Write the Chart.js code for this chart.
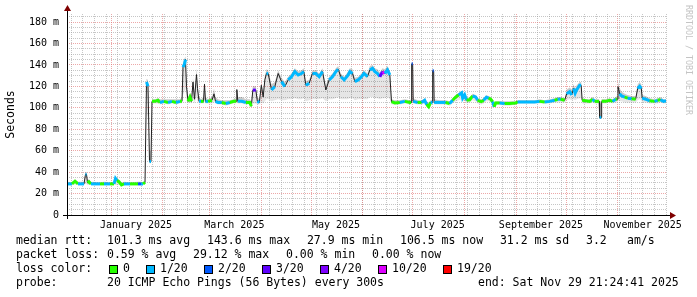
<!DOCTYPE html>
<html>
<head>
<meta charset="utf-8">
<script src="https://cdn.jsdelivr.net/npm/chart.js@4.4.1/dist/chart.umd.min.js"></script>
<style>
  html, body { margin: 0; padding: 0; background: #fff; }
  canvas { display: block; }
</style>
</head>
<body>
<canvas id="c" width="697" height="297"></canvas>
<script>
// smokeping year graph, days counted from 1 Jan 2025 (0 = Jan 1)
const days = [
  -26.4, -23.4, -21.6, -19.8, -16.2, -15.3, -14.7, -14.1, -13.2, -12.0, -6.6, -4.2, -0.6, 1.8, 2.7, 3.6, 4.8, 6.3, 7.8, 11.4,
  16.2, 18.0, 19.2, 20.4, 21.3, 22.2, 23.1, 24.0, 24.6,
  26.4, 28.2, 29.4, 31.8, 34.2, 36.6, 39.0, 41.4, 42.6, 43.2, 44.1, 44.7, 45.3, 46.2, 47.4, 48.3, 49.2, 50.1, 51.3, 51.9,
  52.8, 54.0, 55.5, 56.1, 56.7, 58.2, 60.6, 61.8, 62.7, 64.2, 66.5, 68.9, 71.3, 73.7, 75.2, 75.5, 76.1, 78.5, 80.9, 83.3,
  84.2, 85.1, 86.9, 87.8, 89.0, 90.2, 91.3, 92.3,
  93.3, 94.3, 96.3, 98.3, 100.3, 102.3, 104.3, 106.3, 108.3, 110.3, 112.3, 114.3, 115.7, 116.9, 118.9, 120.9, 122.9, 124.9,
  126.9, 128.9, 130.9, 132.9, 134.9, 136.3, 137.9, 139.9, 141.9, 143.3, 144.9, 146.3, 148.3, 150.3, 151.8, 153.9, 155.3,
  156.9, 158.3, 159.9, 161.3, 162.9, 164.3, 165.9, 167.3, 168.3,
  170.3, 173.3, 176.3, 179.3, 180.1, 180.4, 181.0, 181.3, 184.0, 186.4, 188.2, 189.4, 190.6, 191.8, 192.9, 193.0, 193.6,
  193.9, 197.2, 200.8, 203.2, 205.0, 206.8, 208.6, 210.4, 211.0, 212.2, 213.4, 215.2, 217.0, 218.8, 220.0, 222.2, 223.6,
  225.2, 226.6, 227.8, 229.0, 229.9, 230.8, 233.2, 236.2, 239.2, 242.8, 244.0, 248.2, 251.2, 254.2, 257.2, 260.2, 263.2,
  266.2, 268.0, 269.8, 272.2, 273.4, 275.2, 276.4, 277.6, 278.5, 279.4, 281.2, 282.1, 282.7, 284.8, 287.2, 289.0, 290.2,
  292.0, 292.9, 293.2, 294.1, 294.4, 296.8, 299.2, 301.0, 302.8, 303.7, 304.2, 305.2, 306.4, 308.2, 310.0, 312.4, 314.8,
  316.0, 317.2, 318.2, 318.7, 320.8, 323.2, 326.2, 328.0, 329.7, 331.5, 333.0
];
// median rtt (ms)
const median = [
  29, 29, 31.5, 29, 29, 38, 38, 30, 31, 29, 29, 29, 29, 29, 34, 32, 31, 28, 29, 29,
  29, 29, 29, 30.5, 124, 120, 50, 50, 106,
  106, 107, 105, 106, 105, 106, 105, 106, 106, 138, 141, 145, 120, 106, 110, 106, 124, 108, 131, 118,
  106, 106, 106, 122, 106, 106, 107, 113, 106, 105, 105, 104, 105, 106, 106, 117, 106, 106, 105, 105,
  101.5, 116.5, 116.5, 106, 105, 121, 110, 126,
  132, 132, 116.6, 119.7, 132, 124.4, 119.7, 126, 129, 133.7, 130.6, 132, 133.7, 121, 122.8, 132, 132, 129,
  133.7, 116.6, 126, 129, 133.7, 135.9, 129, 126, 129.7, 133.7, 132, 124.4, 126, 129, 132, 129, 135.3,
  136.8, 133.7, 132, 129, 133.7, 132, 135.3, 130.6, 105.7,
  104.5, 105, 106, 105, 105, 141, 141, 106, 105, 105, 107, 103, 101, 105, 105, 134.6, 134.6,
  105, 105, 105, 104, 107, 110, 112, 114, 109, 112, 107, 107.5, 111, 110, 107, 105.7, 107,
  109.8, 109, 108, 105.7, 101, 104.5, 104.5, 104, 104, 104.5, 105.5, 105.5, 105.5, 105.5, 106, 105.5, 106,
  107, 108, 108, 107, 113, 115, 112, 118, 113.5, 116.6, 121, 121, 107, 106.5, 106, 108, 106,
  106, 106, 91, 91, 106, 106, 107, 106, 108, 108, 119.7, 113, 111, 110, 109, 108.5, 108,
  118, 120, 118, 109, 108, 106.5, 106, 107, 107.5, 106, 106.5
];
// packet loss bucket (index into lossColors)
const loss = [
  1, 0, 0, 1, 1, 1, 1, 0, 0, 1, 0, 1, 0, 1, 1, 0, 0, 0, 1, 0,
  2, 1, 0, 1, 1, 1, 1, 1, 0,
  0, 0, 1, 0, 1, 0, 1, 0, 1, 1, 1, 1, 1, 0, 0, 1, 1, 1, 1, 1,
  1, 0, 1, 1, 1, 0, 0, 1, 1, 1, 0, 1, 0, 0, 1, 1, 1, 1, 0, 0,
  1, 3, 3, 1, 0, 1, 1, 1,
  1, 1, 1, 1, 1, 1, 1, 1, 1, 1, 1, 1, 1, 1, 1, 1, 1, 1,
  1, 1, 1, 1, 1, 1, 1, 1, 1, 1, 3, 1, 1, 1, 1, 1, 1,
  1, 1, 1, 3, 5, 1, 1, 1, 0,
  0, 1, 0, 0, 1, 2, 2, 1, 0, 1, 1, 0, 0, 1, 1, 2, 2,
  1, 1, 0, 1, 0, 0, 1, 1, 1, 1, 0, 0, 1, 1, 0, 0, 1,
  1, 0, 0, 1, 0, 0, 1, 0, 0, 0, 1, 1, 1, 1, 0, 1, 1,
  0, 1, 0, 0, 1, 1, 1, 1, 1, 1, 1, 1, 0, 0, 0, 1, 0,
  0, 1, 1, 1, 0, 0, 0, 1, 0, 1, 1, 1, 1, 0, 1, 0, 1,
  1, 1, 1, 1, 1, 0, 1, 0, 1, 1, 0
];
// smoke band (spread of the 20 pings)
const smokeLo = [
  28, 28, 28.5, 28, 28, 29, 29, 28, 28, 28, 28, 28, 28, 28, 28, 28, 28, 27.5, 28, 28,
  28, 28, 28, 28, 95, 90, 48, 48, 104,
  104, 104, 103, 104, 103, 104, 103, 104, 104, 112, 115, 118, 108, 104, 105, 104, 108, 104, 110, 106,
  104, 104, 104, 106, 104, 104, 104, 106, 104, 103, 103, 102, 103, 104, 104, 106, 104, 104, 103, 103,
  100, 104, 104, 103, 103, 105, 104, 106,
  108, 108, 106, 107, 108, 107, 107, 108, 108, 109, 108, 108, 109, 106, 107, 108, 108, 108,
  109, 106, 108, 108, 109, 110, 108, 108, 108, 109, 109, 107, 108, 108, 108, 108, 110,
  110, 109, 109, 108, 109, 109, 110, 108, 103,
  103, 103, 104, 103, 103, 106, 106, 104, 103, 103, 104, 101, 100, 103, 103, 106, 106,
  103, 103, 103, 102, 104, 106, 107, 108, 106, 107, 104, 105, 107, 106, 104, 103, 104,
  106, 106, 105, 103, 100, 103, 103, 102, 102, 103, 104, 104, 104, 104, 104, 104, 104,
  105, 105, 105, 105, 107, 108, 107, 108, 107, 108, 109, 109, 104, 104, 104, 105, 104,
  104, 104, 90, 90, 104, 104, 105, 104, 105, 105, 107, 106, 106, 105, 105, 105, 105,
  107, 108, 107, 105, 105, 104, 104, 104, 105, 104, 104
];
const smokeHi = [
  31, 30.5, 33, 31, 31, 40, 40, 33, 33, 31, 30.5, 31, 30.5, 31, 36, 34, 33, 30, 31, 30.5,
  31, 31, 30.5, 32, 127, 126, 60, 60, 108,
  108, 109, 108, 108, 108, 108, 108, 108, 110, 142, 146, 148, 124, 110, 114, 110, 128, 112, 137, 122,
  110, 108, 110, 124, 110, 108, 110, 118, 110, 108, 107, 107, 107, 108, 109, 118, 110, 110, 108, 108,
  106, 120, 120, 110, 108, 124, 114, 130,
  136, 135, 122, 124, 135, 128, 124, 129, 132, 137, 134, 135, 137, 125, 126, 135, 135, 132,
  137, 121, 129, 132, 137, 139, 132, 129, 133, 137, 136, 128, 129, 132, 135, 132, 139,
  140, 137, 136, 133, 137, 136, 139, 134, 108,
  107, 107, 108, 107, 108, 142, 142, 109, 107, 107, 109, 106, 105, 107, 108, 136, 136,
  108, 107, 107, 106, 109, 112, 114, 116, 112, 114, 109, 110, 113, 112, 109, 108, 109,
  112, 111, 110, 108, 104, 106, 106, 106, 106, 106, 107, 107, 107, 107, 108, 107, 108,
  109, 110, 110, 109, 117, 119, 117, 122, 118, 121, 124, 124, 109, 108, 108, 110, 108,
  108, 108, 104, 104, 108, 108, 109, 108, 110, 111, 124, 118, 115, 113, 112, 111, 111,
  122, 124, 122, 112, 111, 109, 108, 109, 110, 108, 108
];

const lossColors = ['#26ff00', '#00b8ff', '#0059ff', '#5e00ff', '#7e00ff', '#dd00ff', '#ff0000'];
const lossLabels = ['0', '1/20', '2/20', '3/20', '4/20', '10/20', '19/20'];

// x axis: month starts (major grid), Sundays (minor grid), labels mid month
const monthStarts = [0, 31, 59, 90, 120, 151, 181, 212, 243, 273, 304];
const sundays = [];
for (let d = -24; d <= 333; d += 7) sundays.push(d);
const labelDays = [15, 74, 135, 196, 258, 319];
const labelTexts = ['January 2025', 'March 2025', 'May 2025', 'July 2025', 'September 2025', 'November 2025'];
const xMin = -26.4, xMax = 333.6;
const yTickValues = [];
for (let v = 0; v <= 185; v += 5) yTickValues.push(v);

const statLines = [
  { y: 241, items: [[16, 'median rtt:'], [107, '101.3 ms avg'], [207, '143.6 ms max'], [300, ' 27.9 ms min'], [400, '106.5 ms now'], [493, ' 31.2 ms sd'], [586, '3.2'], [627, 'am/s']] },
  { y: 255, items: [[16, 'packet loss:'], [107, '0.59 % avg'], [193, '29.12 % max'], [286, '0.00 % min'], [372, '0.00 % now']] },
  { y: 283, items: [[16, 'probe:'], [107, '20 ICMP Echo Pings (56 Bytes) every 300s'], [478, 'end: Sat Nov 29 21:24:41 2025']] }
];
const boxX = [109, 146, 204, 262, 320, 378, 443];

const MONO = '"DejaVu Sans Mono", "Liberation Mono", monospace';
const MAJOR = 'rgba(225,110,110,0.6)';
const MINOR = 'rgba(160,160,160,0.6)';

const medianPts = days.map((d, i) => ({ x: d, y: median[i] }));
const loPts = days.map((d, i) => ({ x: d, y: smokeLo[i] }));
const hiPts = days.map((d, i) => ({ x: d, y: smokeHi[i] }));

const rrdDecor = {
  id: 'rrdDecor',
  afterDraw(chart) {
    const ctx = chart.ctx;
    const a = chart.chartArea;
    ctx.save();
    // axes
    ctx.strokeStyle = '#000';
    ctx.lineWidth = 1;
    ctx.beginPath();
    ctx.moveTo(a.left - 4, a.bottom + 0.5);
    ctx.lineTo(a.right + 4, a.bottom + 0.5);
    ctx.moveTo(a.left + 0.5, a.bottom + 4);
    ctx.lineTo(a.left + 0.5, a.top - 4);
    ctx.stroke();
    ctx.fillStyle = '#7f0000';
    ctx.beginPath();
    ctx.moveTo(a.right + 3, a.bottom - 3);
    ctx.lineTo(a.right + 9, a.bottom + 0.5);
    ctx.lineTo(a.right + 3, a.bottom + 4);
    ctx.closePath();
    ctx.fill();
    ctx.beginPath();
    ctx.moveTo(a.left - 3, a.top - 3);
    ctx.lineTo(a.left + 0.5, a.top - 9);
    ctx.lineTo(a.left + 4, a.top - 3);
    ctx.closePath();
    ctx.fill();

    // watermark
    ctx.save();
    ctx.translate(684, 5);
    ctx.rotate(Math.PI / 2);
    ctx.font = '8.3px ' + MONO;
    ctx.fillStyle = '#c4c4c4';
    ctx.textBaseline = 'middle';
    ctx.textAlign = 'left';
    ctx.fillText('RRDTOOL / TOBI OETIKER', 0, -4);
    ctx.restore();

    // legend text
    ctx.font = '11.5px ' + MONO;
    ctx.fillStyle = '#000';
    ctx.textBaseline = 'middle';
    ctx.textAlign = 'left';
    statLines.forEach(line => {
      line.items.forEach(([x, t]) => ctx.fillText(t, x, line.y));
    });
    ctx.fillText('loss color:', 16, 269);
    lossColors.forEach((c, i) => {
      ctx.fillStyle = c;
      ctx.fillRect(boxX[i], 265, 8, 8);
      ctx.strokeStyle = '#000';
      ctx.strokeRect(boxX[i] + 0.5, 265.5, 8, 8);
      ctx.fillStyle = '#000';
      ctx.fillText(lossLabels[i], boxX[i] + 14, 269);
    });
    ctx.restore();
  }
};

const gridOnlyAxis = (values, color) => ({
  type: 'linear',
  position: 'bottom',
  min: xMin,
  max: xMax,
  afterBuildTicks: s => { s.ticks = values.map(v => ({ value: v })); },
  afterFit: s => { s.height = 0; },
  border: { display: false, dash: [1, 1] },
  grid: { drawTicks: false, lineWidth: 1, color: color },
  ticks: { display: false, autoSkip: false }
});

new Chart(document.getElementById('c'), {
  type: 'line',
  data: {
    datasets: [
      {
        data: loPts, borderWidth: 0, pointRadius: 0, fill: false, order: 4
      },
      {
        data: hiPts, borderWidth: 0, pointRadius: 0, fill: '-1',
        backgroundColor: 'rgba(0,0,0,0.10)', order: 3
      },
      {
        // darker smoke between median and upper spread
        data: medianPts, borderColor: '#202020', borderWidth: 1, pointRadius: 0, order: 2,
        fill: { target: 1 }, backgroundColor: 'rgba(0,0,0,0.12)'
      },
      {
        data: medianPts, borderWidth: 3, pointRadius: 0, borderCapStyle: 'butt', order: 1,
        borderColor: lossColors[0],
        segment: {
          borderColor: c => Math.abs(c.p1.parsed.y - c.p0.parsed.y) > 5 ? 'rgba(0,0,0,0)' : lossColors[loss[c.p0DataIndex]]
        }
      }
    ]
  },
  options: {
    responsive: false,
    devicePixelRatio: 1,
    animation: false,
    layout: { padding: { top: 14, right: 30, left: 0, bottom: 0 } },
    plugins: { legend: { display: false }, tooltip: { enabled: false } },
    scales: {
      xWeek: gridOnlyAxis(sundays, MINOR),
      xMonth: gridOnlyAxis(monthStarts, MAJOR),
      x: {
        type: 'linear',
        position: 'bottom',
        min: xMin,
        max: xMax,
        afterBuildTicks: s => { s.ticks = labelDays.map(v => ({ value: v })); },
        afterFit: s => { s.height = 82; },
        border: { display: false },
        grid: { display: false, drawTicks: false },
        ticks: {
          autoSkip: false,
          maxRotation: 0,
          padding: 4,
          color: '#000',
          font: { family: MONO, size: 10 },
          callback: (v, i) => labelTexts[i]
        }
      },
      y: {
        type: 'linear',
        min: 0,
        max: 187.5,
        afterBuildTicks: s => { s.ticks = yTickValues.map(v => ({ value: v })); },
        afterFit: s => { s.width = 67; },
        border: { display: false, dash: [1, 1] },
        grid: {
          drawTicks: false,
          lineWidth: 1,
          color: c => c.tick && c.tick.value % 20 === 0 ? MAJOR : MINOR
        },
        title: {
          display: true,
          text: 'Seconds',
          color: '#000',
          font: { family: MONO, size: 11.5 },
          padding: { top: 4, bottom: 4 }
        },
        ticks: {
          autoSkip: false,
          padding: 8,
          color: '#000',
          font: { family: MONO, size: 10 },
          callback: v => v % 20 !== 0 ? '' : (v === 0 ? '0' : v + ' m')
        }
      }
    }
  },
  plugins: [rrdDecor]
});
</script>
</body>
</html>
